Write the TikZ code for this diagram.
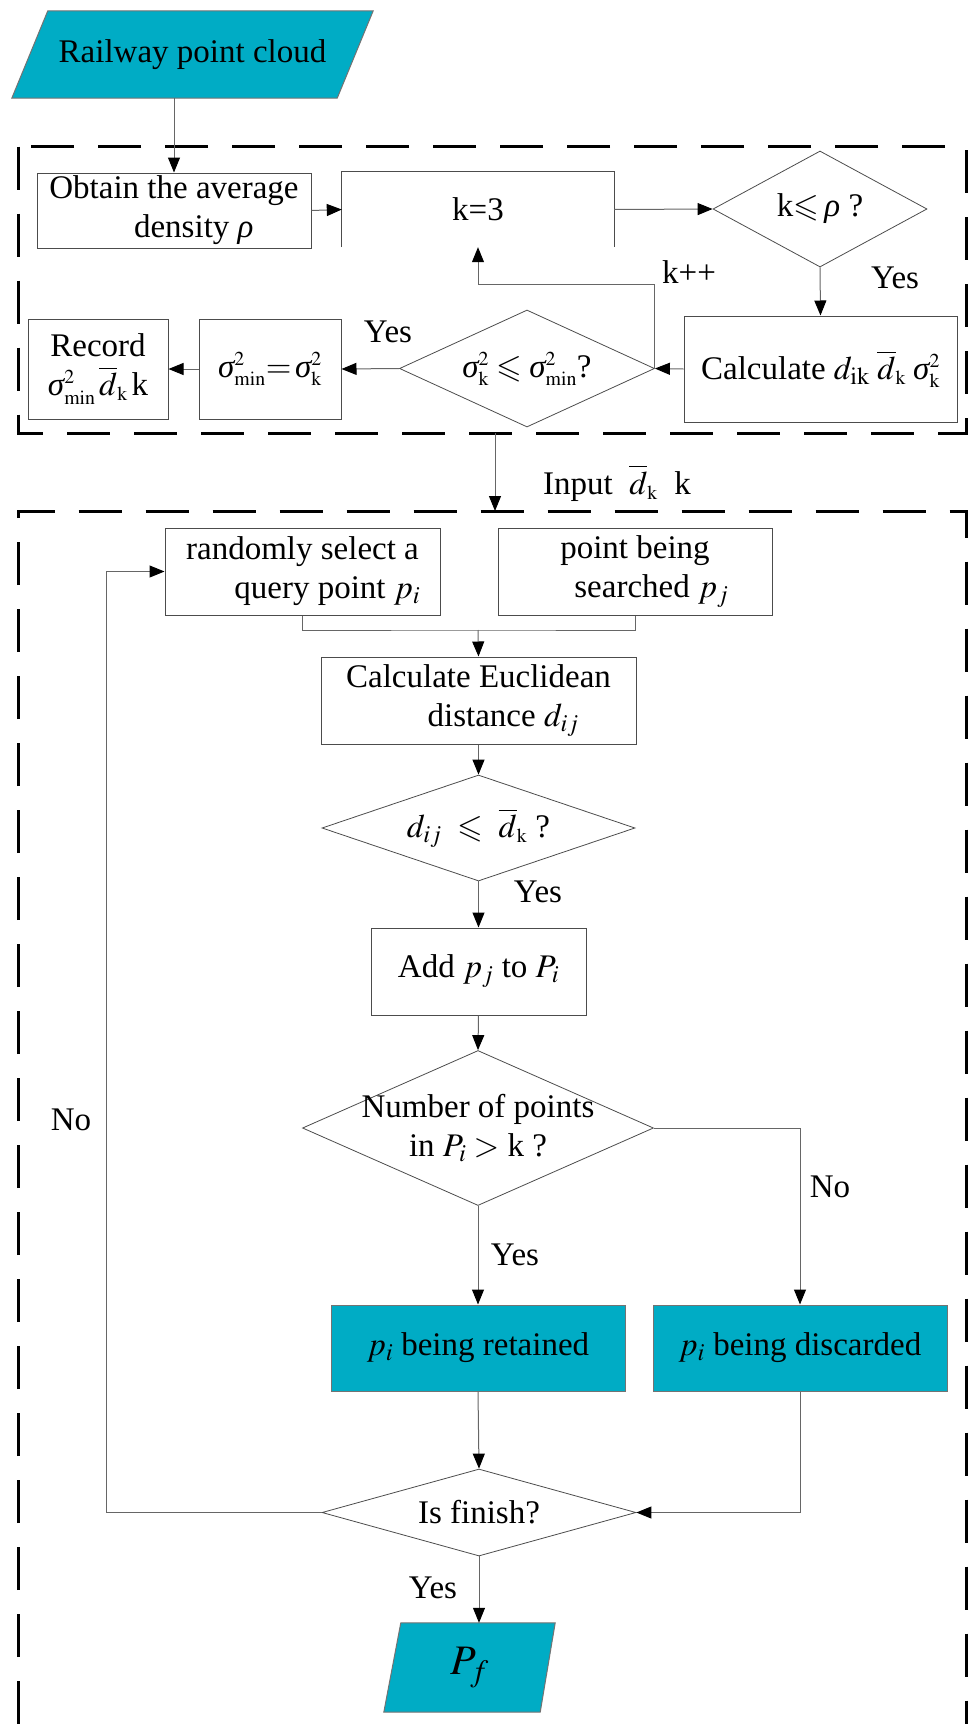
\documentclass[tikz,border=0pt]{standalone}
\usepackage{mathptmx}
\usepackage{amsmath}
\usepackage{amssymb}
\usepackage{fontspec}
\setmainfont{Liberation Serif}
\usetikzlibrary{arrows.meta,shapes.geometric,backgrounds}
\definecolor{cloudteal}{RGB}{0,172,197}
\newcommand{\gsig}{\textit{σ}}
\newcommand{\grho}{\textit{ρ}}
\newcommand{\sigK}{\gsig^{\scriptscriptstyle 2}_{\scriptscriptstyle\mathrm{k}}}
\newcommand{\sigMin}{\gsig^{\scriptscriptstyle 2}_{\scriptscriptstyle\mathrm{min}}}
\newcommand{\dK}{\overline{d}_{\scriptscriptstyle\mathrm{k}}}
\tikzset{
  lbl/.style={font=\fontsize{33}{39}\selectfont, align=center, inner sep=0pt},
  proc/.style={lbl, draw=black!70, line width=1pt, fill=white},
  fillbox/.style={lbl, draw=black!55, line width=1pt, fill=cloudteal},
  dec/.style={diamond, draw=black!70, line width=0.8pt, inner sep=0pt, aspect=1},
  slantfill/.style={fill=cloudteal, draw=black!55, line width=1pt},
  conn/.style={draw=black!60, line width=1pt},
  arr/.style={conn, -{Triangle[length=15pt,width=12pt,color=black]}},
  dashbox/.style={line width=3pt, dash pattern=on 43pt off 24pt},
}
\begin{document}
\begin{tikzpicture}[x=1pt,y=-1pt]
\useasboundingbox (0,0) rectangle (971,1724);

% dashed group frames
\draw[dashbox] (18.6,146.7) rectangle (966,433);
\draw[dashbox] (18.6,1724) -- (18.6,511) -- (966,511) -- (966,1724);

% ---- stage 1: choose k ----
\node[lbl, minimum width=361, minimum height=87] (cloud) at (192.5,54.5) {Railway point cloud};
\begin{pgfonlayer}{background}
  \path[slantfill] ([xshift=36pt]cloud.north west) -- (cloud.north east)
        -- ([xshift=-36pt]cloud.south east) -- (cloud.south west) -- cycle;
\end{pgfonlayer}
\node[proc, minimum width=274, minimum height=75] (obt) at (174,210.5) {Obtain the average\\\hspace*{1.2em}density $\grho$};
\node[lbl, minimum width=272, minimum height=75] (k3) at (478,209.5) {k=3};
\draw[draw=black!70, line width=1pt] (k3.south west) -- (k3.north west) -- (k3.north east) -- (k3.south east);
\node[dec, minimum width=214, minimum height=116] (dk) at (820,209) {};
\node[lbl] (dkt) at (dk) {k$\leqslant$\,$\grho$ ?};
\node[proc, minimum width=273, minimum height=106] (calc) at (820.5,369) {Calculate $d_{\mathrm{ik}}\;\dK\;\sigK$};
\node[dec, minimum width=255, minimum height=117] (dsig) at (527,368.5) {};
\node[lbl] (dsigt) at (dsig) {$\sigK\leqslant\sigMin$?};
\node[proc, minimum width=142, minimum height=100] (smin) at (270,369) {$\sigMin{=}\,\sigK$};
\node[proc, minimum width=140, minimum height=100] (rec) at (98,369) {Record\\$\sigMin\,\dK\,$k};

\draw[arr] (cloud.south -| obt.north) -- (obt.north);
\draw[arr] (obt.east) -- (k3.west);
\draw[arr] (k3.east) -- (dk.west);
\draw[arr] (dk.south) -- (calc.north);
\draw[arr] (calc.west) -- (dsig.east);
\draw[arr] (dsig.west) -- (smin.east);
\draw[arr] (smin.west) -- (rec.east);
\coordinate (kturn) at (654.5,284);
\draw[arr] (dsig.east) -- (dsig.east |- kturn) -| (k3.south);

\node[lbl] (yes1) at (895,278) {Yes};
\node[lbl] (kpp) at (689,272) {k++};
\node[lbl] (yes2) at (388,332) {Yes};

% ---- hand-over between the stages ----
\coordinate (outA) at (495,433);
\coordinate (inB) at (495,511);
\draw[arr] (outA) -- (inB);
\node[lbl] (inp) at (617,483) {Input\ \ $\dK$\ \ k};

% ---- stage 2: filtering ----
\node[proc, minimum width=275, minimum height=87] (rnd) at (302.5,571.5) {randomly select a\\\hspace*{1.5em}query point $p_i$};
\node[proc, minimum width=274, minimum height=87] (pbs) at (635,571.5) {point being\\\hspace*{1em}searched $p_j$};
\coordinate (jn) at (478,630);
\draw[conn] (rnd.south) |- (jn) -| (pbs.south);
\node[proc, minimum width=315, minimum height=87] (euc) at (478.5,700.5) {Calculate Euclidean\\\hspace*{1.5em}distance $d_{ij}$};
\draw[arr] (jn) -- (euc.north);
\node[dec, minimum width=313, minimum height=106] (ddij) at (478.5,828) {};
\node[lbl] (ddijt) at (ddij) {$d_{ij}\ \leqslant\ \dK$ ?};
\node[proc, minimum width=215, minimum height=87] (add) at (478.5,971.5) {Add\ $p_j$\ to $P_i$};
\node[dec, minimum width=351, minimum height=155] (dnum) at (478,1128) {};
\node[lbl] (dnumt) at (dnum) {Number of points\\in $P_i>$\ k ?};
\node[fillbox, minimum width=294, minimum height=86] (ret) at (478,1348) {$p_i$\ being retained};
\node[fillbox, minimum width=294, minimum height=86] (dis) at (800,1348) {$p_i$\ being discarded};
\node[dec, minimum width=314, minimum height=87] (fin) at (479,1512.5) {};
\node[lbl] (fint) at (fin) {Is finish?};
\node[lbl, minimum width=171, minimum height=89, font=\fontsize{42}{46}\selectfont] (pf) at (469.5,1667.5) {$P_f$};
\begin{pgfonlayer}{background}
  \path[slantfill] ([xshift=17pt]pf.north west) -- (pf.north east)
        -- ([xshift=-15pt]pf.south east) -- (pf.south west) -- cycle;
\end{pgfonlayer}

\draw[arr] (euc.south) -- (ddij.north);
\draw[arr] (ddij.south) -- (add.north);
\draw[arr] (add.south) -- (dnum.north);
\draw[arr] (dnum.south) -- (ret.north);
\draw[arr] (dnum.east) -| (dis.north);
\draw[arr] (ret.south) -- (fin.north);
\draw[arr] (dis.south) |- (fin.east);
\draw[arr] (fin.south) -- (fin.south |- pf.north);
\coordinate (loopc) at (106.5,1512.5);
\draw[arr] (fin.west) -- (loopc) |- (rnd.west);

\node[lbl] (yes3) at (538,892) {Yes};
\node[lbl] (yes4) at (515,1255) {Yes};
\node[lbl] (no1) at (830,1187) {No};
\node[lbl] (no2) at (71,1120) {No};
\node[lbl] (yes5) at (433,1588) {Yes};
\end{tikzpicture}
\end{document}
